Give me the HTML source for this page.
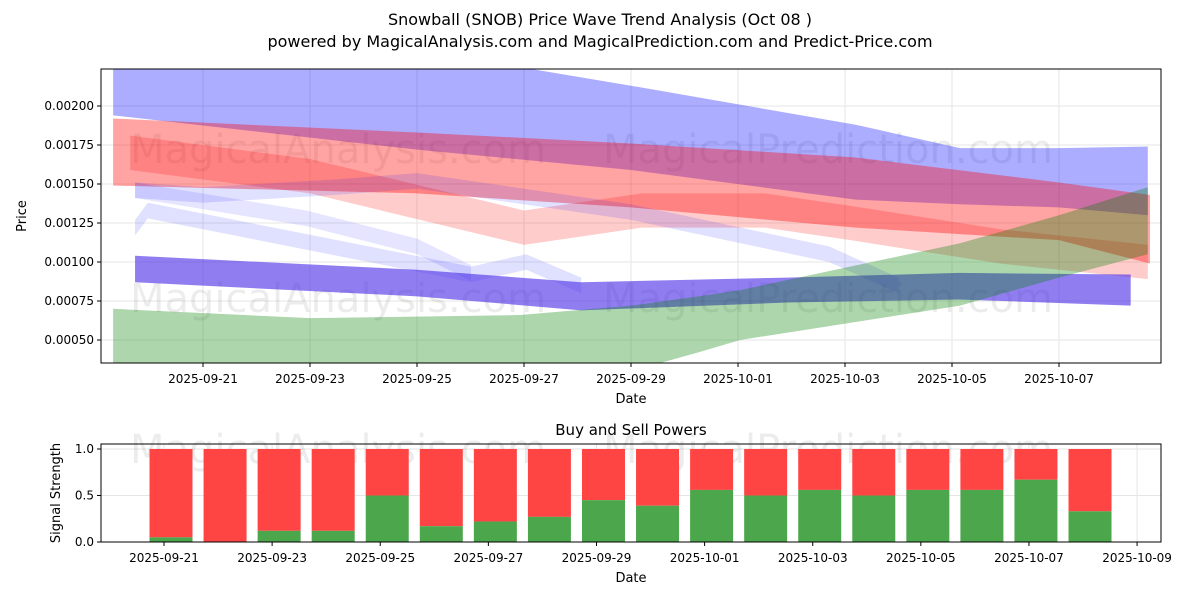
<!DOCTYPE html>
<html><head><meta charset="utf-8"><style>
body{margin:0;background:#fff;font-family:"Liberation Sans",sans-serif;}
svg text{font-family:"DejaVu Sans","Liberation Sans",sans-serif;}
</style></head><body>
<svg id="c" width="1200" height="600" xmlns="http://www.w3.org/2000/svg">
<rect width="1200" height="600" fill="#fff"/>
<text x="600" y="25" text-anchor="middle" font-size="16">Snowball (SNOB) Price Wave Trend Analysis (Oct 08 )</text>
<text x="600" y="47" text-anchor="middle" font-size="16">powered by MagicalAnalysis.com and MagicalPrediction.com and Predict-Price.com</text>
<g id="topg"></g>
<g id="bot"></g>
</svg>
<script>
const tickDates=["2025-09-21","2025-09-23","2025-09-25","2025-09-27","2025-09-29","2025-10-01","2025-10-03","2025-10-05","2025-10-07"];
const tickDays=[0,2,4,6,8,10,12,14,16];
const priceTicks=[0.0005,0.00075,0.001,0.00125,0.0015,0.00175,0.002];
const priceLabels=["0.00050","0.00075","0.00100","0.00125","0.00150","0.00175","0.00200"];
const blueTopDays=[-1.68,4,8,12.2,14.15,16,17.66];
const blueTopHi=[0.0024,0.00236,0.00213,0.00188,0.00173,0.00173,0.00174];
const blueTopLo=[0.00194,0.00172,0.00159,0.0014,0.00137,0.00135,0.0013];
const redTopDays=[-1.68,4,8,12.2,16,17.7];
const redTopHi=[0.00192,0.00183,0.00176,0.00167,0.00151,0.00143];
const redTopLo=[0.00149,0.00144,0.00135,0.00122,0.00114,0.00099];
const redCurveDays=[-1.36,2,6,8.2,10.5,12.1,14.9,17.66];
const redCurveMid=[0.0017,0.00155,0.00122,0.00133,0.00133,0.00125,0.0011,0.001];
const blueLight1Days=[-1.27,0,2.5,4,8,11.7,13];
const blueLight1Mid=[0.00146,0.00143,0.00148,0.00152,0.00132,0.00105,0.00085];
const blueLight2Days=[-1.27,-1.03,5.01,6.04,7.07];
const blueLight2Mid=[0.00122,0.00133,0.00092,0.001,0.00085];
const blueLight3Days=[-1.27,1.93,4,5.01];
const blueLight3Mid=[0.00146,0.00128,0.0011,0.00093];
const purpleDays=[-1.27,4,7.07,10.92,14.13,17.34];
const purpleHi=[0.00104,0.00095,0.00087,0.0009,0.00093,0.00092];
const purpleLo=[0.00087,0.00078,0.00069,0.00074,0.00076,0.00072];
const greenDays=[-1.68,2,5.93,8,9.25,10.04,14.15,16,17.66];
const greenHi=[0.0007,0.00064,0.00066,0.00072,0.00078,0.00082,0.00112,0.0013,0.00148];
const greenLo=[0.0003,0.0002,0.00025,0.0003,0.00042,0.0005,0.00072,0.0009,0.00105];
const barDays=[0,1,2,3,4,5,6,7,8,9,10,11,12,13,14,15,16,17];
const buyVals=[0.05,0,0.12,0.12,0.5,0.17,0.22,0.27,0.45,0.39,0.56,0.5,0.56,0.5,0.56,0.56,0.67,0.33];
const botTickDates=["2025-09-21","2025-09-23","2025-09-25","2025-09-27","2025-09-29","2025-10-01","2025-10-03","2025-10-05","2025-10-07","2025-10-09"];
const botTickDays=[0,2,4,6,8,10,12,14,16,18];
const sigTicks=[0,0.5,1];
const sigLabels=["0.0","0.5","1.0"];

const NS="http://www.w3.org/2000/svg";
function mk(p,t,a,txt){const e=document.createElementNS(NS,t);for(const k in a)e.setAttribute(k,a[k]);if(txt!==undefined)e.textContent=txt;p.appendChild(e);return e;}
const L=101,R=1161,T=69,B=363;
const X=d=>203+53.5*d, Y=p=>106+(0.002-p)*156000;
const topG=document.getElementById('topg');
const cp=mk(topG,'clipPath',{id:'cp'});
mk(cp,'rect',{x:L,y:T,width:R-L,height:B-T});
tickDays.forEach((d,i)=>{
 const g=mk(topG,'line',{x1:X(d),x2:X(d),y1:T,y2:B,stroke:'#e6e6e6'});
 
 
 mk(topG,'line',{x1:X(d),x2:X(d),y1:B,y2:B+4,stroke:'#000'});
 const t=mk(topG,'text',{x:X(d),y:B+20,'text-anchor':'middle','font-size':12},tickDates[i]);
 
 
});
priceTicks.forEach((p,i)=>{
 mk(topG,'line',{x1:L,x2:R,y1:Y(p),y2:Y(p),stroke:'#e6e6e6'});
 mk(topG,'line',{x1:L-4,x2:L,y1:Y(p),y2:Y(p),stroke:'#000'});
 const t=mk(topG,'text',{x:L-7,y:Y(p)+4,'text-anchor':'end','font-size':12},priceLabels[i]);
 
 
});
const wm=mk(topG,'g',{fill:'#000',opacity:0.07,'font-size':40});


mk(wm,'text',{x:130,y:163},'MagicalAnalysis.com');mk(wm,'text',{x:603,y:163},'MagicalPrediction.com');
mk(wm,'text',{x:130,y:312},'MagicalAnalysis.com');mk(wm,'text',{x:603,y:312},'MagicalPrediction.com');
const bands=mk(topG,'g',{'clip-path':'url(#cp)'});
function band(days,hi,lo,fill,name){
 let pts=days.map((d,i)=>X(d)+','+Y(hi[i]));
 for(let i=days.length-1;i>=0;i--)pts.push(X(days[i])+','+Y(lo[i]));
 const p=mk(bands,'polygon',{points:pts.join(' '),fill:fill});
 
 
}
function curve(days,mid,w,fill,name){band(days,mid.map(v=>v+w/2),mid.map(v=>v-w/2),fill,name);}
band(blueTopDays,blueTopHi,blueTopLo,'rgba(0,0,255,0.32)','blue-upper-band');
band(redTopDays,redTopHi,redTopLo,'rgba(255,0,0,0.36)','red-upper-band');
curve(redCurveDays,redCurveMid,0.00022,'rgba(255,0,0,0.2)','red-curve-band');
curve(blueLight1Days,blueLight1Mid,0.0001,'rgba(0,0,255,0.12)','blue-light-band-1');
curve(blueLight2Days,blueLight2Mid,0.0001,'rgba(0,0,255,0.12)','blue-light-band-2');
curve(blueLight3Days,blueLight3Mid,0.0001,'rgba(0,0,255,0.1)','blue-light-band-3');
band(purpleDays,purpleHi,purpleLo,'rgba(70,40,230,0.6)','purple-lower-band');
band(greenDays,greenHi,greenLo,'rgba(0,128,0,0.32)','green-band');
mk(topG,'rect',{x:L,y:T,width:R-L,height:B-T,fill:'none',stroke:'#000'});
let t=mk(topG,'text',{x:631,y:403,'text-anchor':'middle','font-size':13},'Date');


t=mk(topG,'text',{x:26,y:216,'text-anchor':'middle','font-size':13,transform:'rotate(-90 26 216)'},'Price');



const bot=document.getElementById('bot');
const bL=101,bR=1161,bT=444,bB=542;
const BX=d=>164+54.06*d, BY=v=>542-v*93;
t=mk(bot,'text',{x:631,y:435,'text-anchor':'middle','font-size':15},'Buy and Sell Powers');


sigTicks.forEach((v,i)=>{
 mk(bot,'line',{x1:bL,x2:bR,y1:BY(v),y2:BY(v),stroke:'#e6e6e6'});
 mk(bot,'line',{x1:bL-4,x2:bL,y1:BY(v),y2:BY(v),stroke:'#000'});
 const e=mk(bot,'text',{x:bL-7,y:BY(v)+4,'text-anchor':'end','font-size':12},sigLabels[i]);
 
 
});
botTickDays.forEach((d,i)=>{
 mk(bot,'line',{x1:BX(d),x2:BX(d),y1:bT,y2:bB,stroke:'#e6e6e6'});
 mk(bot,'line',{x1:BX(d),x2:BX(d),y1:bB,y2:bB+4,stroke:'#000'});
 const e=mk(bot,'text',{x:BX(d),y:bB+20,'text-anchor':'middle','font-size':12},botTickDates[i]);
 
 
});
const wm2=mk(bot,'g',{fill:'#000',opacity:0.07,'font-size':40});


mk(wm2,'text',{x:130,y:463},'MagicalAnalysis.com');mk(wm2,'text',{x:603,y:463},'MagicalPrediction.com');
barDays.forEach((d,i)=>{
 const cx=BX(d)+7,w=43;
 const r=mk(bot,'rect',{x:cx-w/2,y:BY(1),width:w,height:BY(buyVals[i])-BY(1),fill:'#ff4444'});
 
 
 const g=mk(bot,'rect',{x:cx-w/2,y:BY(buyVals[i]),width:w,height:BY(0)-BY(buyVals[i]),fill:'#4ca64c'});
 
 
});
mk(bot,'rect',{x:bL,y:bT,width:bR-bL,height:bB-bT,fill:'none',stroke:'#000'});
t=mk(bot,'text',{x:631,y:582,'text-anchor':'middle','font-size':13},'Date');


t=mk(bot,'text',{x:60,y:493,'text-anchor':'middle','font-size':13,transform:'rotate(-90 60 493)'},'Signal Strength');


</script>
</body></html>
